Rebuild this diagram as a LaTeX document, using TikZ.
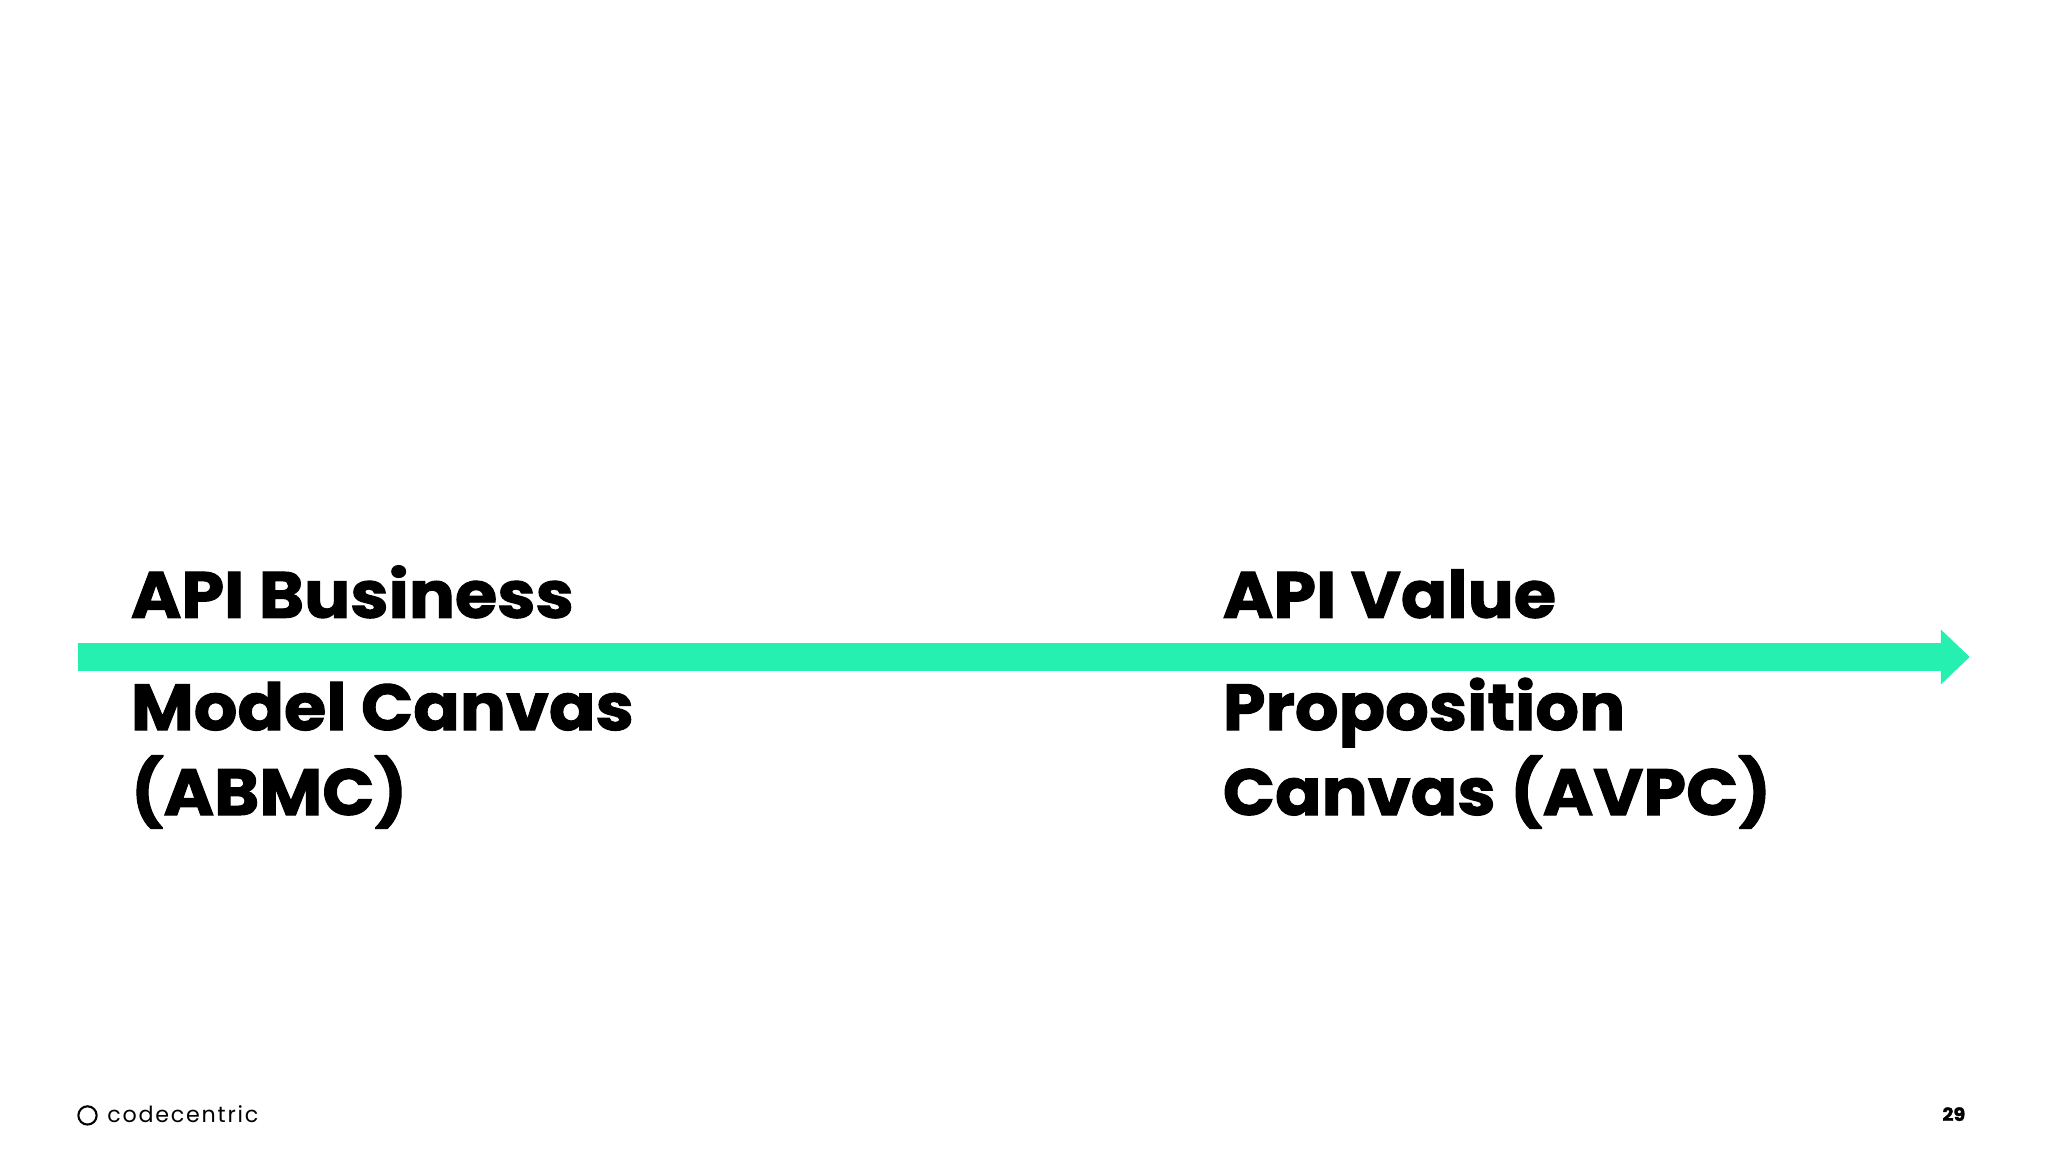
\documentclass[tikz,border=0pt]{standalone}
\usepackage{fontspec}
\setmainfont{Poppins}[FakeStretch=1.05,FakeBold=1.5]
\newfontfamily\footfont{Poppins}[LetterSpace=8]
\definecolor{cc}{HTML}{25F0B0}
\begin{document}
\begin{tikzpicture}[x=1pt,y=-1pt,
  big/.style={anchor=base west,font=\fontsize{50}{60}\selectfont\bfseries,inner sep=0pt},
  foot/.style={anchor=west,inner sep=0pt}]
\useasboundingbox (0,0) rectangle (1568,882);
\fill[cc] (60,492) rectangle (1487,514);
\fill[cc] (1486,482) -- (1508,503) -- (1486,524) -- cycle;
\node[big] (a1) at (100,473) {API Business};
\node[big] (a2) at (100,559) {Model Canvas};
\node[big] (a3) at (100,624) {(ABMC)};
\node[big] (b1) at (936,473) {API Value};
\node[big] (b2) at (936,559) {Proposition};
\node[big] (b3) at (936,624) {Canvas (AVPC)};
\node[foot,font=\footfont\fontsize{17}{20}\selectfont] (logo) at (82,853) {codecentric};
\draw[line width=1.6pt] (67,854) circle (7);
\node[foot,font=\fontsize{14}{16}\selectfont\bfseries] (pg) at (1487,853) {29};
\end{tikzpicture}
\end{document}
